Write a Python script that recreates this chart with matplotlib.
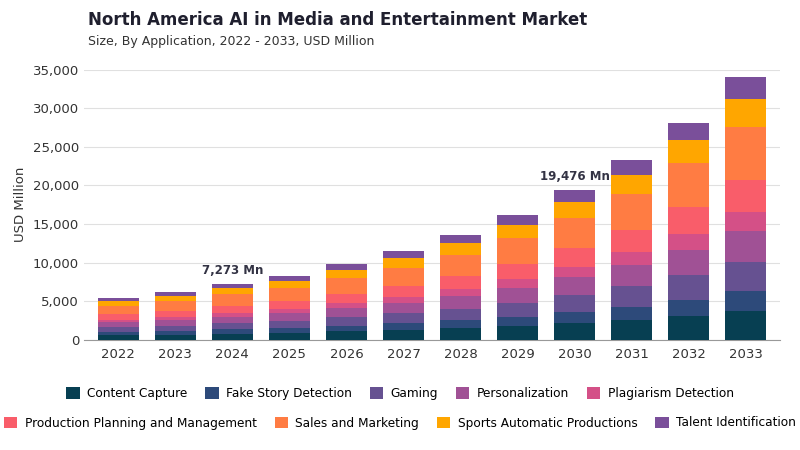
import matplotlib.pyplot as plt
import numpy as np

years = ["2022","2023","2024","2025","2026","2027","2028","2029","2030","2031","2032","2033"]
content_capture = [590,680,790,900,1070,1250,1480,1770,2120,2540,3060,3700]
fake_story = [410,470,550,630,740,870,1030,1230,1480,1770,2140,2600]
gaming = [600,690,810,930,1100,1290,1520,1810,2180,2610,3150,3800]
personalization = [640,730,860,980,1160,1360,1600,1910,2300,2750,3320,4000]
plagiarism = [380,440,520,590,700,820,970,1150,1380,1650,2000,2400]
production = [670,770,900,1030,1220,1430,1690,2010,2420,2890,3480,4200]
sales = [1100,1260,1480,1680,1990,2330,2760,3290,3950,4730,5700,6900]
sports = [570,660,770,880,1040,1220,1440,1720,2060,2470,2980,3600]
talent = [440,500,593,680,780,930,1110,1310,1586,1890,2270,2800]

series = [("Content Capture", content_capture, "#073f52"),
          ("Fake Story Detection", fake_story, "#2d4a7a"),
          ("Gaming", gaming, "#665191"),
          ("Personalization", personalization, "#a05195"),
          ("Plagiarism Detection", plagiarism, "#d45087"),
          ("Production Planning and Management", production, "#f95d6a"),
          ("Sales and Marketing", sales, "#ff7c43"),
          ("Sports Automatic Productions", sports, "#ffa600"),
          ("Talent Identification", talent, "#7a4f9a")]
annot = {"2024": "7,273 Mn", "2030": "19,476 Mn"}

fig = plt.figure(figsize=(8, 4.5), dpi=100)
ax = fig.add_axes([0.105, 0.245, 0.87, 0.6])
x = np.arange(len(years))
bottom = np.zeros(len(years))
handles = []
for name, vals, c in series:
    h = ax.bar(x, vals, 0.72, bottom=bottom, color=c, label=name, zorder=3)
    handles.append(h)
    bottom += np.array(vals)
for i, y in enumerate(years):
    if y in annot:
        ax.text(i, bottom[i] + 900, annot[y], ha="center", va="bottom", fontsize=8.5,
                fontweight="bold", color="#333344")
ax.set_xticks(x, years)
ax.set_xlim(-0.6, len(years) - 0.4)
ax.set_ylim(0, 35000)
ax.set_yticks(range(0, 35001, 5000))
ax.set_yticklabels([f"{v:,}" for v in range(0, 35001, 5000)])
ax.grid(axis="y", color="#e0e0e0", lw=0.8, zorder=0)
for s in ["top", "right", "left"]:
    ax.spines[s].set_visible(False)
ax.spines["bottom"].set_color("#999999")
ax.tick_params(axis="both", length=0, labelsize=9.5, colors="#333333")
ax.tick_params(axis="x", pad=6)
ax.set_ylabel("USD Million", fontsize=9.5, color="#333333")

fig.text(0.11, 0.945, "North America AI in Media and Entertainment Market", fontsize=12,
         fontweight="bold", color="#1f1f2e")
fig.text(0.11, 0.9, "Size, By Application, 2022 - 2033, USD Million", fontsize=9, color="#333333")

kw = dict(frameon=False, fontsize=8.7, handlelength=1.1, handleheight=1.1, columnspacing=1.5, handletextpad=0.6)
fig.legend(handles[:5], [s[0] for s in series[:5]], loc="center", bbox_to_anchor=(0.5, 0.125), ncol=5, **kw)
fig.legend(handles[5:], [s[0] for s in series[5:]], loc="center", bbox_to_anchor=(0.5, 0.06), ncol=4, **kw)
fig.savefig("out.png")
